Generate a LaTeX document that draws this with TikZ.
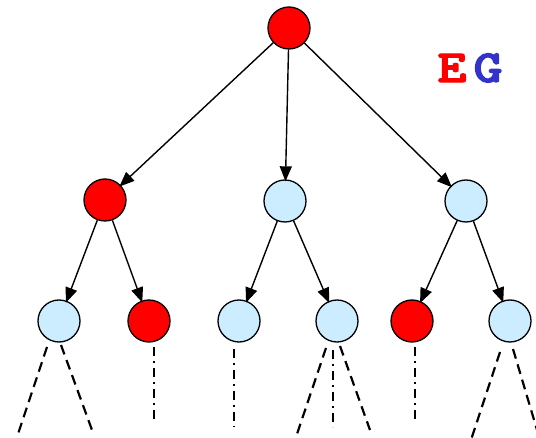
\documentclass[tikz,border=0pt]{standalone}
\usepackage{fontspec}
\newfontfamily\egfont{lmmonolt10-bold.otf}[FakeBold=2.5]
\usetikzlibrary{arrows.meta}
\definecolor{nodered}{RGB}{255,0,0}
\definecolor{nodeblue}{RGB}{204,236,255}
\definecolor{egblue}{RGB}{51,51,204}
\tikzset{
  vert/.style={circle,draw=black,line width=1.3pt,minimum size=42pt,inner sep=0pt},
  redv/.style={vert,fill=nodered},
  bluev/.style={vert,fill=nodeblue},
  arr/.style={line width=1.4pt,-{Triangle[length=15pt,width=12pt]},shorten >=-2pt},
  dashline/.style={line width=2.2pt,dash pattern=on 10pt off 6pt},
  dotline/.style={line width=1.6pt,dash pattern=on 9pt off 5pt on 2pt off 5pt},
  eg/.style={inner sep=0pt,font=\egfont\fontsize{46}{46}\selectfont,xscale=1.2}
}
\begin{document}
\begin{tikzpicture}[x=1pt,y=-1pt]
\useasboundingbox (0,0) rectangle (536,438);
% vertices
\node[redv]  (r)  at (289,28) {};
\node[redv]  (a)  at (105,200) {};
\node[bluev] (b)  at (285,201) {};
\node[bluev] (c)  at (466,201) {};
\node[bluev] (a1) at (59,321) {};
\node[redv]  (a2) at (149,321) {};
\node[bluev] (b1) at (239,321) {};
\node[bluev] (b2) at (337,321) {};
\node[redv]  (c1) at (412,321) {};
\node[bluev] (c2) at (510,321) {};
% arrows
\draw[arr] (r) -- (a);
\draw[arr] (r) -- (b);
\draw[arr] (r) -- (c);
\draw[arr] (a) -- (a1);
\draw[arr] (a) -- (a2);
\draw[arr] (b) -- (b1);
\draw[arr] (b) -- (b2);
\draw[arr] (c) -- (c1);
\draw[arr] (c) -- (c2);
% free ends
\coordinate (a1l) at (18,434);
\coordinate (a1r) at (92,430);
\coordinate (a2d) at (154,423);
\coordinate (b1d) at (234,427);
\coordinate (b2l) at (297,434);
\coordinate (b2m) at (333,427);
\coordinate (b2r) at (370,430);
\coordinate (c1d) at (415,423);
\coordinate (c2l) at (471,440);
\coordinate (c2r) at (540,440);
% continuation lines
\draw[dashline] ([shift={(-12,26)}]a1.center) -- (a1l);
\draw[dashline] ([shift={(2,24)}]a1.center) -- (a1r);
\draw[dotline] ([shift={(5,26)}]a2.center) -- (a2d);
\draw[dotline] ([shift={(-5,28)}]b1.center) -- (b1d);
\draw[dashline] ([shift={(-11,27)}]b2.center) -- (b2l);
\draw[dotline] ([shift={(-4,29)}]b2.center) -- (b2m);
\draw[dashline] ([shift={(3,25)}]b2.center) -- (b2r);
\draw[dotline] ([shift={(3,26)}]c1.center) -- (c1d);
\draw[dashline] ([shift={(-10,31)}]c2.center) -- (c2l);
\draw[dashline] ([shift={(3,28)}]c2.center) -- (c2r);
% label
\node[eg,text=nodered] (e) at (452,68) {E};
\node[eg,text=egblue] (g) at (488,68) {G};
\end{tikzpicture}
\end{document}
